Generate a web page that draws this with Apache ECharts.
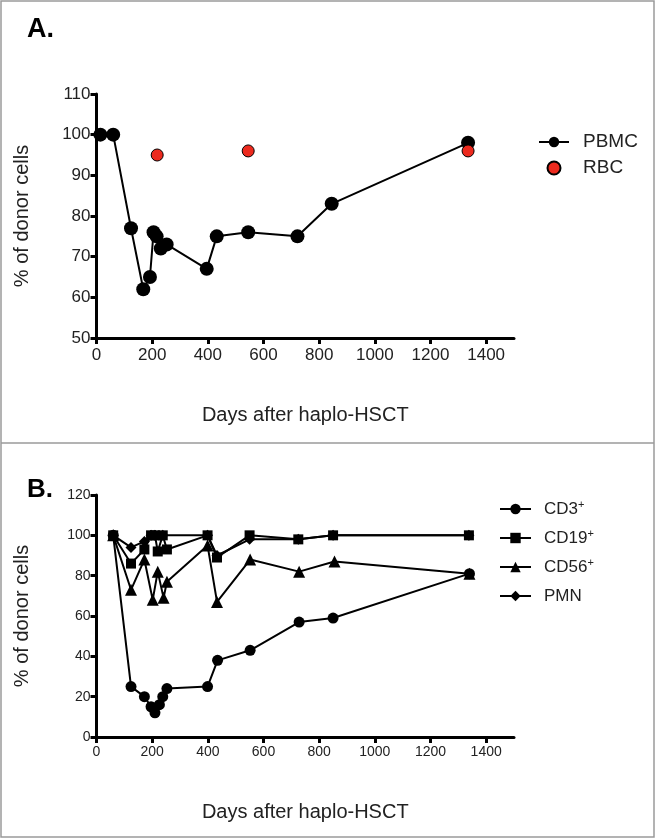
<!DOCTYPE html>
<html><head><meta charset="utf-8">
<script src="https://cdn.jsdelivr.net/npm/echarts@6/dist/echarts.min.js"></script>
<style>html,body{margin:0;padding:0;background:#fff}#c{width:656px;height:839px}</style>
</head><body><div id="c"></div>
<script>
// ---- data ----
const xTickValues = [0, 200, 400, 600, 800, 1000, 1200, 1400];
const aYTickValues = [50, 60, 70, 80, 90, 100, 110];
const bYTickValues = [0, 20, 40, 60, 80, 100, 120];

const pbmcDays = [14, 60, 124, 168, 192, 205, 216, 231, 252, 396, 432, 545, 722, 845, 1335];
const pbmcVals = [100, 100, 77, 62, 65, 76, 75, 72, 73, 67, 75, 76, 75, 83, 98];
const rbcDays = [218, 545, 1335];
const rbcVals = [95, 96, 96];

const cd3Days = [60, 124, 172, 196, 210, 226, 238, 253, 399, 435, 552, 728, 850, 1340];
const cd3Vals = [100, 25, 20, 15, 12, 16, 20, 24, 25, 38, 43, 57, 59, 81];
const cd19Days = [60, 124, 172, 196, 210, 220, 238, 253, 399, 433, 550, 725, 850, 1338];
const cd19Vals = [100, 86, 93, 100, 100, 92, 100, 93, 100, 89, 100, 98, 100, 100];
const cd56Days = [60, 124, 172, 202, 220, 241, 253, 399, 433, 552, 728, 855, 1340];
const cd56Vals = [100, 73, 88, 68, 82, 69, 77, 95, 67, 88, 82, 87, 81];
const pmnDays = [60, 124, 172, 196, 210, 238, 399, 433, 550, 725, 850, 1338];
const pmnVals = [100, 94, 97, 100, 100, 100, 100, 90, 98, 98, 100, 100];

function pairs(xs, ys) { return xs.map((x, i) => [x, ys[i]]); }

const FONT = '"Liberation Sans", Arial, sans-serif';

function xAxisCfg(gridIndex, labelSize, margin, nameGap) {
  return {
    type: 'value', gridIndex, min: 0, max: 1500,
    name: 'Days after haplo-HSCT', nameLocation: 'middle', nameGap,
    nameTextStyle: { fontFamily: FONT, fontSize: 20, color: '#222' },
    axisLine: { show: true, onZero: false, lineStyle: { color: '#000', width: 3 } },
    axisTick: { show: true, length: 6, customValues: xTickValues, lineStyle: { color: '#000', width: 3 } },
    axisLabel: { customValues: xTickValues, formatter: v => String(v), fontFamily: FONT, fontSize: labelSize, color: '#222', margin },
    splitLine: { show: false }
  };
}
function yAxisCfg(gridIndex, ticks, labelSize) {
  return {
    type: 'value', gridIndex, min: ticks[0], max: ticks[ticks.length - 1], interval: ticks[1] - ticks[0],
    name: '% of donor cells', nameLocation: 'middle', nameGap: 64,
    nameTextStyle: { fontFamily: FONT, fontSize: 20, color: '#222' },
    axisLine: { show: true, onZero: false, lineStyle: { color: '#000', width: 3 } },
    axisTick: { show: true, length: 6, lineStyle: { color: '#000', width: 3 } },
    axisLabel: { formatter: v => String(v), fontFamily: FONT, fontSize: labelSize, color: '#222', margin: 6 },
    splitLine: { show: false }
  };
}

const chart = echarts.init(document.getElementById('c'), null, { renderer: 'canvas' });

const lineCommon = (name, xIdx, days, vals, symbol, size) => ({
  name, type: 'line', xAxisIndex: xIdx, yAxisIndex: xIdx,
  data: pairs(days, vals), symbol, symbolSize: size,
  itemStyle: { color: '#000', opacity: 1 }, lineStyle: { color: '#000', width: 2 },
  emphasis: { disabled: true }
});

const legendRich = { sup: { fontSize: 11, fontFamily: FONT, color: '#222', verticalAlign: 'top', padding: [0, 0, 9, 0] } };

chart.setOption({
  animation: false,
  backgroundColor: '#fff',
  title: [
    { text: 'A.', left: 22, top: 11, textStyle: { fontFamily: FONT, fontSize: 27, fontWeight: 'bold', color: '#000' } },
    { text: 'B.', left: 22, top: 472, textStyle: { fontFamily: FONT, fontSize: 26, fontWeight: 'bold', color: '#000' } }
  ],
  graphic: [
    { type: 'rect', shape: { x: 1, y: 1, width: 653, height: 836 }, style: { fill: null, stroke: '#9a9a9a', lineWidth: 1.5 }, silent: true },
    { type: 'line', shape: { x1: 1, y1: 443, x2: 654, y2: 443 }, style: { stroke: '#9a9a9a', lineWidth: 1.5 }, silent: true }
  ],
  legend: [
    {
      data: ['PBMC', 'RBC'], orient: 'vertical', left: 533, top: 127,
      itemWidth: 30, itemHeight: 13, itemGap: 6,
      textStyle: { fontFamily: FONT, fontSize: 19, color: '#222', lineHeight: 20, padding: [0, 0, 0, 9] },
      selectedMode: false
    },
    {
      data: ['CD3+', 'CD19+', 'CD56+', 'PMN'], orient: 'vertical', left: 494, top: 494,
      itemWidth: 31, itemHeight: 13, itemGap: 9,
      textStyle: { fontFamily: FONT, fontSize: 17, color: '#222', lineHeight: 20, padding: [0, 0, 0, 8], rich: legendRich },
      formatter: n => n.endsWith('+') ? n.slice(0, -1) + '{sup|+}' : n,
      selectedMode: false
    }
  ],
  grid: [
    { left: 96.5, width: 417.5, top: 94, height: 244 },
    { left: 96.5, width: 417.5, top: 495, height: 242 }
  ],
  xAxis: [xAxisCfg(0, 17, 9, 67), xAxisCfg(1, 14, 8, 65)],
  yAxis: [yAxisCfg(0, aYTickValues, 17), yAxisCfg(1, bYTickValues, 14)],
  series: [
    lineCommon('PBMC', 0, pbmcDays, pbmcVals, 'circle', 14),
    {
      name: 'RBC', type: 'scatter', xAxisIndex: 0, yAxisIndex: 0,
      data: pairs(rbcDays, rbcVals), symbol: 'circle', symbolSize: 12,
      itemStyle: { color: '#ec2a1e', opacity: 1, borderColor: '#000', borderWidth: 1 }, z: 3,
      emphasis: { disabled: true }
    },
    lineCommon('CD3+', 1, cd3Days, cd3Vals, 'circle', 11),
    lineCommon('CD19+', 1, cd19Days, cd19Vals, 'rect', 10),
    lineCommon('CD56+', 1, cd56Days, cd56Vals, 'triangle', 12),
    lineCommon('PMN', 1, pmnDays, pmnVals, 'diamond', 11)
  ]
});
</script></body></html>
